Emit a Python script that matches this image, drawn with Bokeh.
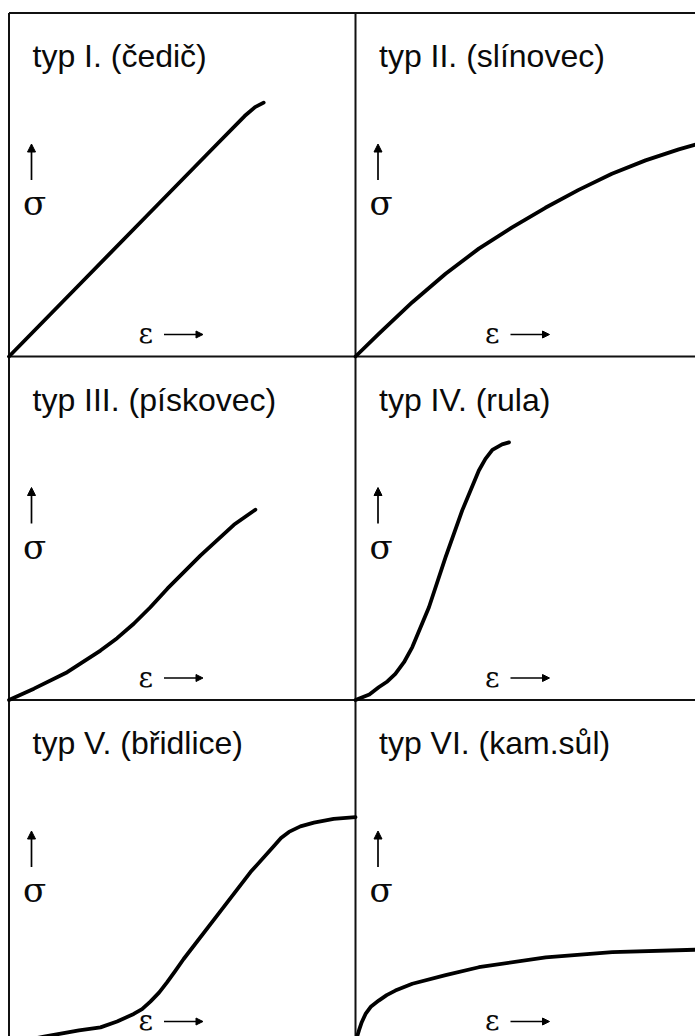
from bokeh.plotting import figure
from bokeh.models import Range1d, Arrow, NormalHead
from bokeh.core.properties import value
from bokeh.embed import file_html
from bokeh.resources import INLINE

# Stress-strain curve types of rocks (sigma vs. epsilon), normalised to each panel
titles = ["typ I. (čedič)", "typ II. (slínovec)", "typ III. (pískovec)",
          "typ IV. (rula)", "typ V. (břidlice)", "typ VI. (kam.sůl)"]

eps_I = [0.0, 0.2, 0.4, 0.6, 0.68, 0.71, 0.735]
sig_I = [0.0, 0.206, 0.412, 0.618, 0.700, 0.726, 0.739]

eps_II = [0.0, 0.067, 0.164, 0.260, 0.356, 0.452, 0.548, 0.644, 0.740, 0.837, 0.933, 1.0]
sig_II = [0.0, 0.066, 0.158, 0.241, 0.314, 0.376, 0.433, 0.485, 0.532, 0.571, 0.603, 0.622]

eps_III = [0.0, 0.072, 0.168, 0.264, 0.312, 0.360, 0.408, 0.457, 0.553, 0.649, 0.684, 0.711]
sig_III = [0.0, 0.033, 0.081, 0.144, 0.180, 0.222, 0.270, 0.324, 0.421, 0.510, 0.535, 0.554]

eps_IV = [0.0, 0.040, 0.067, 0.092, 0.115, 0.140, 0.164, 0.212, 0.260, 0.308, 0.356,
          0.375, 0.395, 0.423, 0.443]
sig_IV = [0.0, 0.016, 0.037, 0.054, 0.076, 0.110, 0.154, 0.270, 0.416, 0.552, 0.668,
          0.702, 0.728, 0.744, 0.750]

eps_V = [0.0, 0.101, 0.202, 0.264, 0.312, 0.360, 0.384, 0.408, 0.433, 0.456, 0.479,
         0.504, 0.601, 0.697, 0.764, 0.785, 0.808, 0.841, 0.880, 0.937, 1.0]
sig_V = [0.0, 0.020, 0.038, 0.047, 0.064, 0.086, 0.100, 0.122, 0.148, 0.178, 0.210,
         0.246, 0.373, 0.499, 0.574, 0.598, 0.616, 0.632, 0.643, 0.654, 0.659]

eps_VI = [0.0, 0.004, 0.010, 0.018, 0.029, 0.045, 0.067, 0.090, 0.115, 0.164, 0.260,
          0.356, 0.549, 0.741, 0.981, 1.0]
sig_VI = [0.0, 0.018, 0.038, 0.062, 0.086, 0.108, 0.125, 0.141, 0.154, 0.174, 0.199,
          0.222, 0.251, 0.266, 0.273, 0.274]

curves = [(eps_I, sig_I), (eps_II, sig_II), (eps_III, sig_III),
          (eps_IV, sig_IV), (eps_V, sig_V), (eps_VI, sig_VI)]

# panel grid: 2 columns x 3 rows, one data unit per panel
PW, PH = 346.5, 343.5          # pixels per panel unit
W, H = 695, 1036
x_start = -8.5 / PW
y_top = 3 + 12.5 / PH

p = figure(width=W, height=H, output_backend="svg", toolbar_location=None,
           x_range=Range1d(x_start, x_start + W / PW),
           y_range=Range1d(y_top - H / PH, y_top),
           x_axis_type=None, y_axis_type=None,
           min_border=0, min_border_left=0, min_border_right=0,
           min_border_top=0, min_border_bottom=0)
p.grid.visible = False
p.outline_line_color = None
p.background_fill_color = "white"
p.border_fill_color = "white"

# frame and dividers
cols = [0, 1, 2]
rows = [0, 1, 2, 3]
xs0 = [c for c in cols] + [0 for r in rows]
xs1 = [c for c in cols] + [2 for r in rows]
ys0 = [0 for c in cols] + [r for r in rows]
ys1 = [3 for c in cols] + [r for r in rows]
p.segment(x0=xs0, y0=ys0, x1=xs1, y1=ys1, line_color="#111111", line_width=2)


def dx(px):
    return px / PW


def dy(px):
    return px / PH


title_x, title_y, sig_x, sig_y, eps_x, eps_y = [], [], [], [], [], []
for i, (e, s) in enumerate(curves):
    col, row = i % 2, i // 2
    bx, by = col, 2 - row            # panel's lower-left corner
    tx, ty = col, 3 - row            # panel's upper-left corner
    p.line([bx + v for v in e], [by + v for v in s],
           line_color="black", line_width=3.8, line_cap="round", line_join="round")
    title_x.append(tx + dx(23.5))
    title_y.append(ty - dy(43))
    sig_x.append(tx + dx(25.5))
    sig_y.append(ty - dy(190))
    eps_x.append(tx + dx(138 - 8.5))
    eps_y.append(ty - dy(320.5))
    # sigma arrow (up) and epsilon arrow (right)
    p.add_layout(Arrow(end=NormalHead(size=8, fill_color="black", line_color="black", line_width=1),
                       x_start=tx + dx(22.5), y_start=ty - dy(167),
                       x_end=tx + dx(22.5), y_end=ty - dy(131),
                       line_color="black", line_width=1.7))
    p.add_layout(Arrow(end=NormalHead(size=7, fill_color="black", line_color="black", line_width=1),
                       x_start=tx + dx(155), y_start=ty - dy(321.5),
                       x_end=tx + dx(194), y_end=ty - dy(321.5),
                       line_color="black", line_width=1.5))

p.text(x=title_x, y=title_y, text=titles, text_font=value("Liberation Sans"),
       text_font_size="32px", text_color="#0a0a0a", text_baseline="alphabetic")
p.text(x=sig_x, y=sig_y, text=["σ"] * 6, text_font=value("DejaVu Serif"),
       text_font_size="34px", text_color="#0a0a0a", text_baseline="alphabetic",
       text_align="center")
p.text(x=eps_x, y=eps_y, text=["ε"] * 6, text_font=value("DejaVu Serif"),
       text_font_size="28px", text_color="#0a0a0a", text_baseline="alphabetic")

open("out.html", "w").write(file_html(p, INLINE))
